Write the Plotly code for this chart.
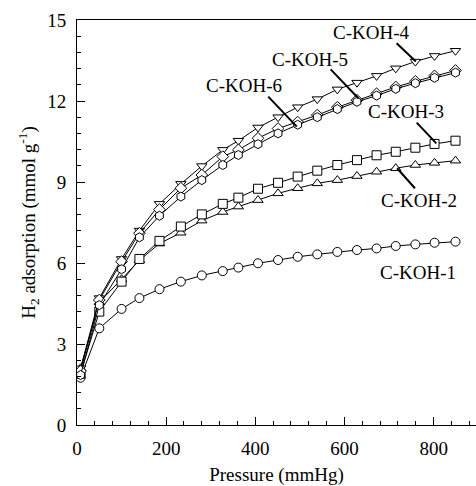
import plotly.graph_objects as go

pressure = [8, 50, 100, 140, 185, 233, 280, 327, 362, 406, 451, 495, 539, 584, 628, 672, 715, 759, 802, 849]

koh1 = [1.75, 3.58, 4.30, 4.70, 5.03, 5.31, 5.54, 5.70, 5.83, 5.99, 6.11, 6.23, 6.32, 6.41, 6.48, 6.54, 6.63, 6.69, 6.75, 6.79]
koh2 = [2.10, 4.55, 5.40, 6.10, 6.72, 7.12, 7.57, 7.89, 8.09, 8.33, 8.58, 8.77, 8.95, 9.07, 9.22, 9.38, 9.51, 9.63, 9.71, 9.79]
koh3 = [1.90, 4.20, 5.31, 6.15, 6.82, 7.35, 7.80, 8.19, 8.42, 8.75, 8.97, 9.20, 9.42, 9.63, 9.81, 9.99, 10.12, 10.27, 10.41, 10.53]
koh4 = [2.10, 4.70, 6.15, 7.20, 8.19, 8.93, 9.59, 10.19, 10.53, 11.02, 11.40, 11.77, 12.07, 12.43, 12.68, 12.93, 13.21, 13.46, 13.67, 13.86]
koh5 = [2.00, 4.63, 6.05, 7.10, 7.98, 8.77, 9.26, 9.94, 10.19, 10.62, 10.98, 11.22, 11.48, 11.77, 12.03, 12.27, 12.52, 12.73, 12.93, 13.13]
koh6 = [1.85, 4.44, 5.77, 6.95, 7.75, 8.46, 9.07, 9.63, 10.00, 10.40, 10.80, 11.12, 11.40, 11.70, 11.97, 12.20, 12.45, 12.66, 12.86, 13.05]

series_names = ["C-KOH-1", "C-KOH-2", "C-KOH-3", "C-KOH-4", "C-KOH-5", "C-KOH-6"]
series_values = [koh1, koh2, koh3, koh4, koh5, koh6]
symbols = ["circle", "triangle-up", "square", "triangle-down", "diamond", "hexagon"]

# label text positions and leader lines (data coords)
label_pos = {
    "C-KOH-1": (765, 5.64),
    "C-KOH-2": (767, 8.33),
    "C-KOH-3": (739, 11.60),
    "C-KOH-4": (659, 14.52),
    "C-KOH-5": (522, 13.52),
    "C-KOH-6": (374, 12.59),
}
leader_lines = {
    "C-KOH-2": ((758, 8.77), (718, 9.51)),
    "C-KOH-3": ((762, 11.20), (806, 10.43)),
    "C-KOH-4": ((717, 14.14), (760, 13.46)),
    "C-KOH-5": ((569, 13.17), (631, 12.10)),
    "C-KOH-6": ((429, 12.16), (493, 11.05)),
}

FONT = "Liberation Serif"

fig = go.Figure()
for name, vals, sym in zip(series_names, series_values, symbols):
    fig.add_trace(go.Scatter(
        x=pressure, y=vals, mode="lines+markers", name=name,
        line=dict(color="black", width=1),
        marker=dict(symbol=sym, size=9, color="white", line=dict(color="black", width=1)),
        showlegend=False,
    ))

for name, (tx, ty) in label_pos.items():
    fig.add_annotation(x=tx, y=ty, text=name, showarrow=False,
                       font=dict(family=FONT, size=19, color="black"))

for name, ((x0, y0), (x1, y1)) in leader_lines.items():
    fig.add_shape(type="line", x0=x0, y0=y0, x1=x1, y1=y1,
                  line=dict(color="black", width=2))

fig.update_layout(
    width=476, height=486,
    margin=dict(l=77, r=0, t=20, b=61),
    plot_bgcolor="white", paper_bgcolor="white",
    font=dict(family=FONT, size=19, color="black"),
)
fig.update_xaxes(
    range=[0, 895], showline=True, linecolor="black", linewidth=1, mirror=True,
    ticks="inside", ticklen=8, tickcolor="black", tickwidth=1,
    dtick=200, tick0=0, showgrid=False, zeroline=False,
    minor=dict(ticks="inside", ticklen=4, dtick=40, tickcolor="black", showgrid=False),
    title=dict(text="Pressure (mmHg)", font=dict(family=FONT, size=19), standoff=12),
    tickfont=dict(family=FONT, size=19),
    ticklabelstandoff=6,
)
fig.update_yaxes(
    range=[0, 15], showline=True, linecolor="black", linewidth=1,
    ticks="inside", ticklen=8, tickcolor="black", tickwidth=1,
    dtick=3, tick0=0, showgrid=False, zeroline=False,
    minor=dict(ticks="inside", ticklen=4, dtick=0.6, tickcolor="black", showgrid=False),
    title=dict(text="H<sub>2</sub> adsorption (mmol g<sup>-1</sup>)", font=dict(family=FONT, size=19), standoff=6),
    tickfont=dict(family=FONT, size=19),
    ticklabelstandoff=6,
)

fig.write_html("out.html")
